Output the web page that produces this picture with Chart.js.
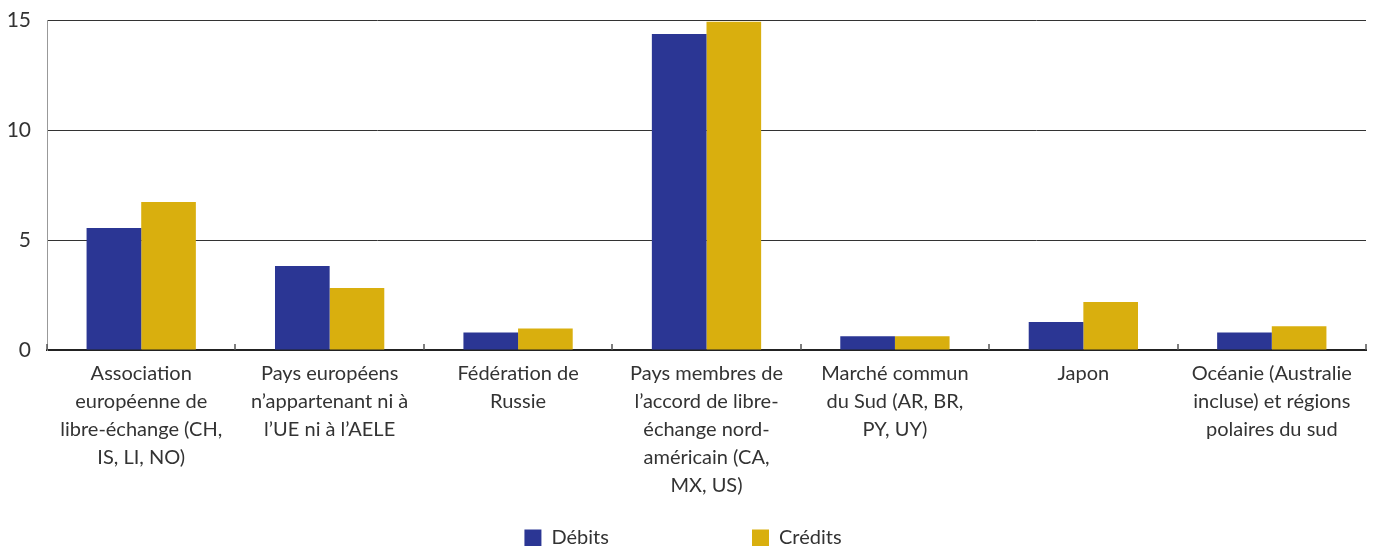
<!DOCTYPE html>
<html>
<head>
<meta charset="utf-8">
<script src="https://cdn.jsdelivr.net/npm/chart.js@4"></script>
<style>
  html, body { margin: 0; padding: 0; background: #fff; }
  #wrap { width: 1375px; height: 546px; }
</style>
</head>
<body>
<div id="wrap"><canvas id="chart"></canvas></div>
<script>
// catégories (libellés sur plusieurs lignes)
var categories = [
    ["Association", "européenne de", "libre-échange (CH,", "IS, LI, NO)"],
    ["Pays européens", "n’appartenant ni à", "l’UE ni à l’AELE"],
    ["Fédération de", "Russie"],
    ["Pays membres de", "l’accord de libre-", "échange nord-", "américain (CA,", "MX, US)"],
    ["Marché commun", "du Sud (AR, BR,", "PY, UY)"],
    ["Japon"],
    ["Océanie (Australie", "incluse) et régions", "polaires du sud"]
];
var debits = [5.55, 3.82, 0.8, 14.36, 0.63, 1.27, 0.8];
var credits = [6.73, 2.82, 0.98, 14.92, 0.63, 2.18, 1.08];
var yTicks = [0, 5, 10, 15];

var textColor = '#333333';
var fontFamily = 'Lato, "Open Sans", sans-serif';

// largeur voulue pour le premier élément de légende
function padLabel(txt, target, size) {
    var c = document.createElement('canvas').getContext('2d');
    c.font = size + 'px ' + fontFamily;
    var s = txt;
    while (c.measureText(s).width < target) {
        s += ' ';
    }
    return s;
}

// petites marques entre les catégories
var boundaryTicks = {
    id: 'boundaryTicks',
    afterDatasetsDraw(chart) {
        var x = chart.scales.x;
        var ctx = chart.ctx;
        var y0 = x.top;
        ctx.save();
        ctx.strokeStyle = '#555555';
        ctx.lineWidth = 1.5;
        for (let i = 0; i <= categories.length; i++) {
            var px = Math.round(x.getPixelForValue(i - 0.5));
            ctx.beginPath();
            ctx.moveTo(px, y0);
            ctx.lineTo(px, y0 - 6);
            ctx.stroke();
        }
        ctx.restore();
    }
};

const ctx = document.getElementById("chart").getContext("2d");
const myChart = new Chart(ctx, {
    type: "bar",
    data: {
        labels: categories,
        datasets: [{
            label: "Débits",
            data: debits,
            backgroundColor: 'rgb(43, 54, 148)',
            borderWidth: 0,
        }, {
            label: "Crédits",
            data: credits,
            backgroundColor: 'rgb(217, 175, 14)',
            borderWidth: 0,
        }],
    },
    options: {
        responsive: true,
        maintainAspectRatio: false,
        animation: false,
        datasets: {
            bar: {
                categoryPercentage: 0.58,
                barPercentage: 1.0,
            }
        },
        layout: {
            padding: { top: 20, right: 9, left: 0, bottom: -12 }
        },
        plugins: {
            tooltip: { enabled: false },
            legend: {
                position: 'bottom',
                labels: {
                    color: textColor,
                    font: { family: fontFamily, size: 20 },
                    boxWidth: 17,
                    boxHeight: 17,
                    padding: 10,
                    generateLabels(chart) {
                        var items = Chart.defaults.plugins.legend.labels.generateLabels(chart);
                        items[0].text = padLabel(items[0].text, 188, 20);
                        return items;
                    }
                }
            }
        },
        scales: {
            x: {
                offset: true,
                grid: {
                    display: true,
                    drawOnChartArea: false,
                    drawTicks: false,
                },
                border: {
                    display: true,
                    color: '#222222',
                    width: 2,
                },
                ticks: {
                    color: textColor,
                    font: { family: fontFamily, size: 20, lineHeight: 1.4 },
                    padding: 10,
                    autoSkip: false,
                    maxRotation: 0,
                },
                afterFit(s) {
                    s.height = 168;
                }
            },
            y: {
                min: 0,
                max: 15,
                afterBuildTicks(s) {
                    s.ticks = yTicks.map(v => ({ value: v }));
                },
                grid: {
                    color: '#333333',
                    lineWidth: 1,
                    drawTicks: false,
                },
                border: {
                    display: true,
                    color: '#999999',
                    width: 1,
                },
                ticks: {
                    color: textColor,
                    font: { family: fontFamily, size: 21 },
                    padding: 16,
                },
                afterFit(s) {
                    s.width = 47;
                    s.paddingTop = 0;
                }
            },
        },
    },
    plugins: [boundaryTicks],
});
</script>
</body>
</html>
